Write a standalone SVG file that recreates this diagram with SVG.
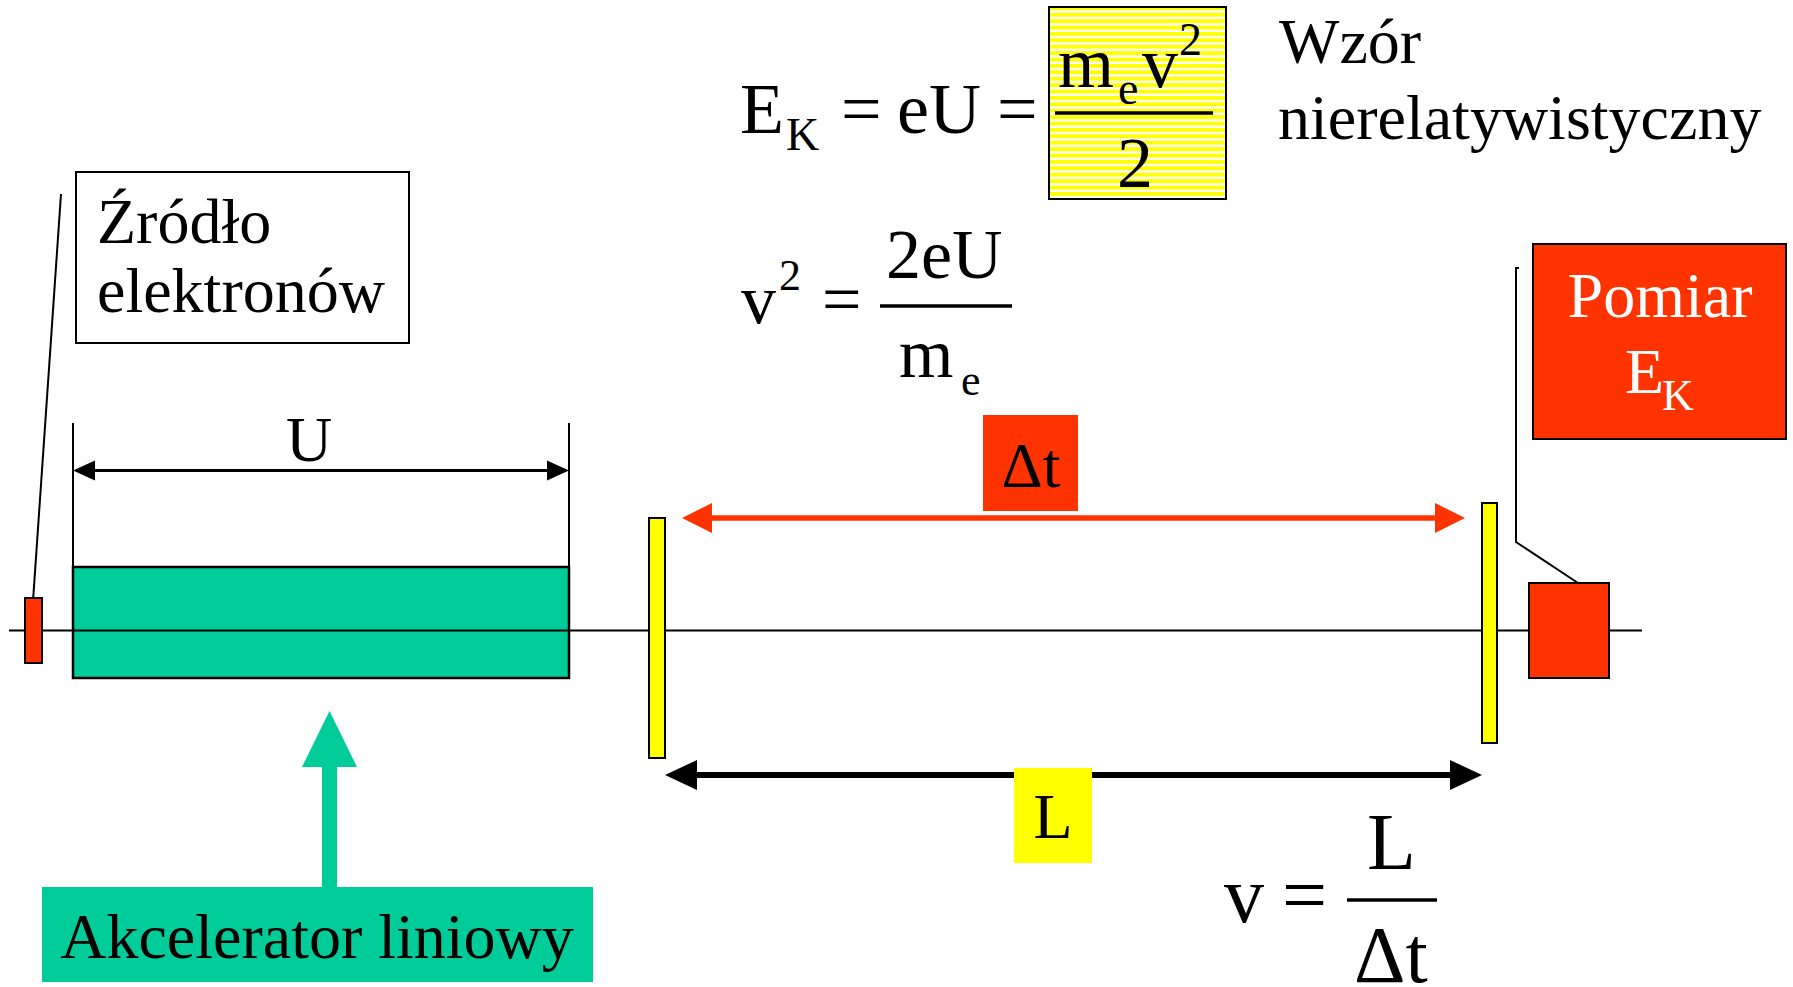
<svg xmlns="http://www.w3.org/2000/svg" width="1793" height="987" viewBox="0 0 1793 987">
<style>
text{font-family:"Liberation Serif","Times New Roman",serif;fill:#000}
.t64{font-size:64px}
.f72{font-size:72px}
.s46{font-size:46px}
.f70{font-size:70px}
.s44{font-size:44px}
.f80{font-size:80px}
.w{fill:#fff}
.blk{stroke:#000;stroke-width:2;fill:none}
.red{fill:#FF3300;stroke:#000;stroke-width:2}
.yel{fill:#FFFF00;stroke:#000;stroke-width:2}
.grn{fill:#00CC99;stroke:#000;stroke-width:2.5}
.bar{stroke:#000;stroke-width:3.5}
</style>
<defs>
<pattern id="stripes" patternUnits="userSpaceOnUse" width="8" height="6.4">
<rect width="8" height="6.4" fill="#FFFF00"/>
<rect y="3.9" width="8" height="2.5" fill="#FFFFFF"/>
</pattern>
<marker id="mU" markerUnits="userSpaceOnUse" markerWidth="24" markerHeight="24" viewBox="0 -12 24 24" refX="0" refY="0" orient="auto-start-reverse"><path d="M0,-10 L22,0 L0,10 Z" fill="#000"/></marker>
<marker id="mR" markerUnits="userSpaceOnUse" markerWidth="32" markerHeight="34" viewBox="0 -17 32 34" refX="0" refY="0" orient="auto-start-reverse"><path d="M0,-15 L30,0 L0,15 Z" fill="#FF3300"/></marker>
<marker id="mL" markerUnits="userSpaceOnUse" markerWidth="34" markerHeight="34" viewBox="0 -17 34 34" refX="0" refY="0" orient="auto-start-reverse"><path d="M0,-15 L32,0 L0,15 Z" fill="#000"/></marker>
<marker id="mG" markerUnits="userSpaceOnUse" markerWidth="58" markerHeight="60" viewBox="0 -30 58 60" refX="0" refY="0" orient="auto"><path d="M0,-27.5 L56,0 L0,27.5 Z" fill="#00CC99"/></marker>
</defs>
<rect width="1793" height="987" fill="#fff"/>

<g id="formula-ek">
<rect x="1049" y="7" width="177" height="192" fill="url(#stripes)" stroke="#000" stroke-width="2"/>
<text class="f72" x="740" y="133">E</text>
<text class="s46" x="786" y="150">K</text>
<text class="f72" x="841" y="133">=</text>
<text class="f72" x="897" y="133">eU</text>
<text class="f72" x="997" y="133">=</text>
<text class="f72" x="1058" y="87">m</text>
<text class="s46" x="1118" y="104">e</text>
<text class="f72" x="1142" y="87">v</text>
<text class="s46" x="1179" y="55">2</text>
<line class="bar" x1="1055" y1="113" x2="1213" y2="113" stroke-width="4"/>
<text class="f72" x="1117" y="187">2</text>
</g>

<g id="label-wzor">
<text class="t64" x="1279" y="63">Wzór</text>
<text class="t64" x="1278" y="139">nierelatywistyczny</text>
</g>

<g id="formula-v2">
<text class="f70" x="741" y="323">v</text>
<text class="s44" x="779" y="290">2</text>
<text class="f70" x="822" y="323">=</text>
<line class="bar" x1="880" y1="306" x2="1012" y2="306"/>
<text class="f70" x="886" y="278">2eU</text>
<text class="f70" x="899" y="377">m</text>
<text class="s44" x="961" y="395">e</text>
</g>

<g id="formula-v">
<text class="f80" x="1224" y="922">v</text>
<text class="f80" x="1282" y="922">=</text>
<line class="bar" x1="1347" y1="900" x2="1437" y2="900"/>
<text class="f80" x="1367" y="869">L</text>
<text class="f80" x="1354" y="982">Δt</text>
</g>

<g id="label-zrodlo">
<rect class="blk" x="76" y="172" width="333" height="171" stroke-width="1.5"/>
<text class="t64" x="97" y="243">Źródło</text>
<text class="t64" x="97" y="312">elektronów</text>
</g>

<g id="label-pomiar">
<rect class="red" x="1533" y="244" width="253" height="195"/>
<text class="t64 w" x="1660" y="317" text-anchor="middle">Pomiar</text>
<text class="t64 w" x="1625" y="393">E</text>
<text class="s44 w" x="1662" y="410">K</text>
</g>

<g id="connectors">
<line class="blk" x1="9" y1="630.5" x2="1642" y2="630.5"/>
<line class="blk" x1="61" y1="194" x2="33" y2="601" stroke-width="1.5"/>
<polyline class="blk" points="1519,268 1516,268 1516,542 1578,583"/>
<line class="blk" x1="73" y1="423" x2="73" y2="600"/>
<line class="blk" x1="569" y1="423" x2="569" y2="600"/>
<line x1="95" y1="470.5" x2="547" y2="470.5" stroke="#000" stroke-width="3" marker-start="url(#mU)" marker-end="url(#mU)"/>
<line x1="712" y1="518" x2="1435" y2="518" stroke="#FF3300" stroke-width="5.5" marker-start="url(#mR)" marker-end="url(#mR)"/>
<line x1="697" y1="775" x2="1450" y2="775" stroke="#000" stroke-width="6" marker-start="url(#mL)" marker-end="url(#mL)"/>
<line x1="329.5" y1="888" x2="329.5" y2="767" stroke="#00CC99" stroke-width="15" marker-end="url(#mG)"/>
</g>

<g id="source">
<rect class="red" x="25" y="598" width="17" height="65"/>
</g>

<g id="accelerator">
<rect class="grn" x="73" y="567" width="496" height="111"/>
<line x1="73" y1="630.5" x2="569" y2="630.5" stroke="#000" stroke-width="2"/>
</g>

<g id="label-u">
<text class="t64" x="309" y="461" text-anchor="middle">U</text>
</g>

<g id="plate-left">
<rect class="yel" x="649" y="518" width="16" height="240"/>
</g>

<g id="plate-right">
<rect class="yel" x="1482" y="503" width="15" height="240"/>
</g>

<g id="detector">
<rect class="red" x="1529" y="583" width="80" height="95"/>
</g>

<g id="label-dt">
<rect x="983" y="415" width="95" height="96" fill="#FF3300"/>
<text class="t64" x="1031" y="487" text-anchor="middle">Δt</text>
</g>

<g id="label-l">
<rect x="1014" y="768" width="78" height="95" fill="#FFFF00"/>
<text class="t64" x="1053" y="838" text-anchor="middle">L</text>
</g>

<g id="label-akcelerator">
<rect x="42" y="887" width="551" height="95" fill="#00CC99"/>
<text class="t64" x="317" y="958" text-anchor="middle">Akcelerator liniowy</text>
</g>
</svg>
